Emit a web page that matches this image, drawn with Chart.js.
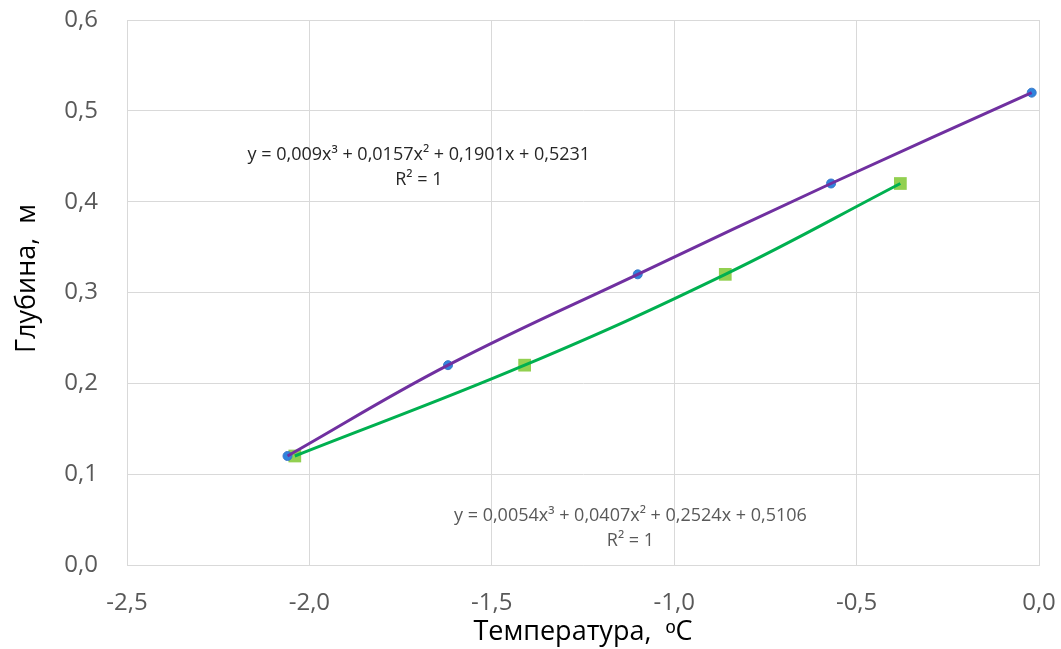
<!DOCTYPE html>
<html>
<head>
<meta charset="utf-8">
<script src="https://cdn.jsdelivr.net/npm/chart.js@4"></script>
<style>
  html, body { margin: 0; padding: 0; background: #fff; }
  #wrap { width: 1061px; height: 649px; }
</style>
</head>
<body>
<div id="wrap"><canvas id="chart"></canvas></div>
<script>
// series 1 - blue points, purple curve
const tempA = [-2.06, -1.62, -1.10, -0.57, -0.02];
const depthA = [0.12, 0.22, 0.32, 0.42, 0.52];
// series 2 - green squares, green curve
const tempB = [-2.04, -1.41, -0.86, -0.38];
const depthB = [0.12, 0.22, 0.32, 0.42];

const xTicks = [-2.5, -2.0, -1.5, -1.0, -0.5, 0.0];
const yTicks = [0.0, 0.1, 0.2, 0.3, 0.4, 0.5, 0.6];

const eqA = ['y = 0,009x³ + 0,0157x² + 0,1901x + 0,5231', 'R² = 1'];
const eqB = ['y = 0,0054x³ + 0,0407x² + 0,2524x + 0,5106', 'R² = 1'];

const FONT = "'Open Sans', sans-serif";

function pts(xs, ys) {
    return xs.map((x, i) => ({x: x, y: ys[i]}));
}
const fmt = (v) => v.toFixed(1).replace('.', ',');

// trendline equation labels, anchored in data units
const labelPlugin = {
    id: 'eqLabels',
    afterDatasetsDraw(chart) {
        const ctx = chart.ctx;
        const sx = chart.scales.x, sy = chart.scales.y;
        const draw = (lines, x, y, color) => {
            ctx.save();
            ctx.font = '18px ' + FONT;
            ctx.fillStyle = color;
            ctx.textAlign = 'center';
            ctx.textBaseline = 'middle';
            const px = sx.getPixelForValue(x);
            const py = sy.getPixelForValue(y);
            lines.forEach((l, i) => ctx.fillText(l, px, py + i * 25));
            ctx.restore();
        };
        draw(eqA, -1.70, 0.4515, '#262626');
        draw(eqB, -1.12, 0.054, '#595959');
    }
};

const config = {
    type: 'scatter',
    data: {
        datasets: [
            {
                label: 'curveA',
                data: pts(tempA, depthA),
                showLine: true,
                borderColor: '#7030A0',
                borderWidth: 3,
                pointRadius: 0,
                tension: 0.4,
                order: 0
            },
            {
                label: 'curveB',
                data: pts(tempB, depthB),
                showLine: true,
                borderColor: '#00B050',
                borderWidth: 3,
                pointRadius: 0,
                tension: 0.4,
                order: 0
            },
            {
                label: 'pointsA',
                data: pts(tempA, depthA),
                showLine: false,
                pointStyle: 'circle',
                pointRadius: 4.5,
                backgroundColor: '#2F84DD',
                borderColor: '#3A78C8',
                borderWidth: 1,
                order: 1
            },
            {
                label: 'pointsB',
                data: pts(tempB, depthB),
                showLine: false,
                pointStyle: 'rect',
                pointRadius: 9,
                backgroundColor: '#92D050',
                borderColor: '#92D050',
                borderWidth: 0,
                order: 1
            }
        ]
    },
    options: {
        responsive: true,
        maintainAspectRatio: false,
        animation: false,
        layout: {
            padding: {top: 20, right: 22, bottom: 0, left: 0}
        },
        plugins: {
            legend: {display: false},
            tooltip: {enabled: false}
        },
        scales: {
            x: {
                type: 'linear',
                min: -2.5,
                max: 0,
                afterBuildTicks: (s) => { s.ticks = xTicks.map(v => ({value: v})); },
                afterFit: (s) => {
                    s.height = 84;
                    s.paddingLeft = 0;
                    s.paddingRight = 0;
                },
                grid: {color: '#d9d9d9', lineWidth: 1, drawTicks: false},
                border: {color: '#d9d9d9'},
                ticks: {
                    color: '#595959',
                    font: {family: FONT, size: 24},
                    padding: 24,
                    callback: fmt
                },
                title: {
                    display: true,
                    text: 'Температура,  ᵒС',
                    color: '#000',
                    font: {family: FONT, size: 27},
                    padding: {top: 0, bottom: 0}
                }
            },
            y: {
                type: 'linear',
                min: 0,
                max: 0.6,
                afterBuildTicks: (s) => { s.ticks = yTicks.map(v => ({value: v})); },
                afterFit: (s) => {
                    s.width = 127;
                    s.paddingTop = 0;
                    s.paddingBottom = 0;
                },
                grid: {color: '#d9d9d9', lineWidth: 1, drawTicks: false},
                border: {color: '#d9d9d9'},
                ticks: {
                    color: '#595959',
                    font: {family: FONT, size: 24},
                    padding: 29,
                    callback: fmt
                },
                title: {
                    display: true,
                    // leading spaces nudge the rotated title up a bit, like the original
                    text: '    Глубина,  м',
                    color: '#000',
                    font: {family: FONT, size: 27},
                    padding: {top: 11, bottom: 0}
                }
            }
        }
    },
    plugins: [labelPlugin]
};

new Chart(document.getElementById('chart'), config);
</script>
</body>
</html>
